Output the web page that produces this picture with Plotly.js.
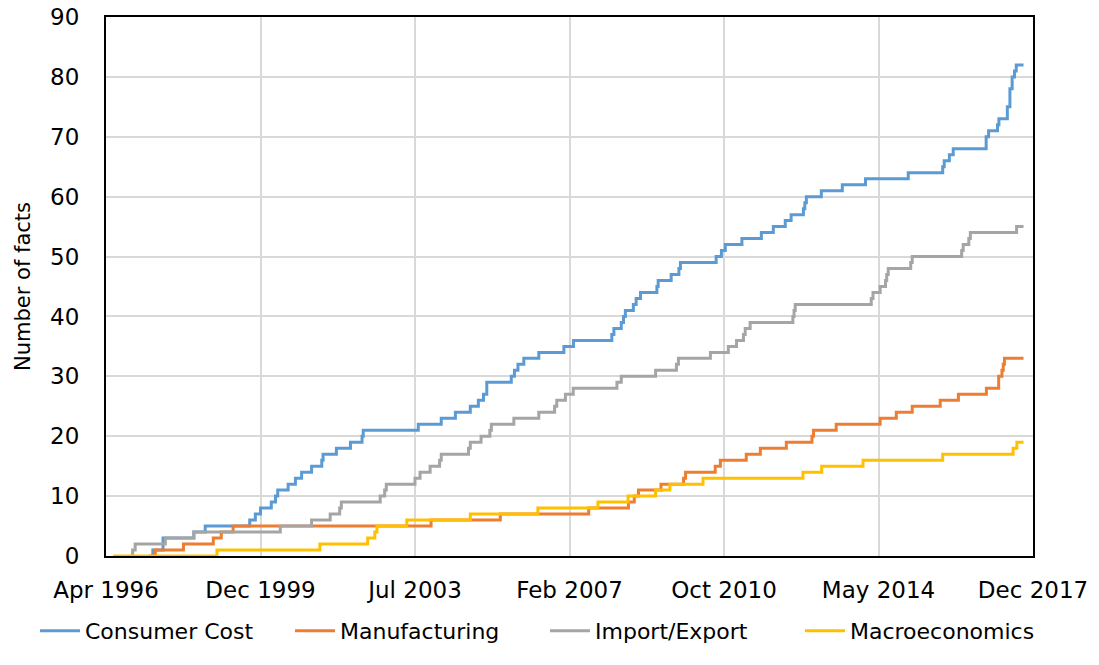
<!DOCTYPE html>
<html>
<head>
<meta charset="utf-8">
<script src="https://cdn.plot.ly/plotly-3.0.1.min.js"></script>
<style>html,body{margin:0;padding:0;background:#fff;}#chart{width:1099px;height:665px;}</style>
</head>
<body>
<div id="chart"></div>
<script>
// ---- data ----
const seriesNames = ['Consumer Cost', 'Manufacturing', 'Import/Export', 'Macroeconomics'];
const xTickLabels = ['Apr 1996', 'Dec 1999', 'Jul 2003', 'Feb 2007', 'Oct 2010', 'May 2014', 'Dec 2017'];
const xRange = ['1996-04-15', '2017-12-15'];

const consumerDates = ['1997-04-28','1997-05-20','1997-08-15','1998-05-05','1998-08-10','1999-08-25','1999-10-12','1999-11-25','2000-02-25','2000-04-01','2000-04-20','2000-07-18','2000-09-18','2000-11-10','2001-02-03','2001-05-01','2001-05-12','2001-09-03','2002-01-01','2002-04-10','2002-04-20','2003-08-03','2004-02-15','2004-06-15','2004-10-20','2004-12-28','2005-02-10','2005-03-10','2005-10-05','2005-11-01','2005-12-01','2006-01-20','2006-05-28','2006-12-28','2007-03-20','2008-02-10','2008-02-28','2008-05-01','2008-05-20','2008-06-05','2008-08-12','2008-09-05','2008-10-12','2009-03-01','2009-03-12','2009-07-01','2009-09-05','2009-09-18','2010-07-20','2010-09-03','2010-10-06','2011-02-25','2011-08-10','2011-11-20','2012-03-01','2012-04-20','2012-08-03','2012-08-15','2012-08-28','2013-01-03','2013-07-01','2014-01-15','2015-01-15','2015-11-05','2015-11-18','2016-01-01','2016-02-03','2016-11-10','2016-12-01','2017-02-15','2017-02-27','2017-05-10','2017-06-01','2017-06-20','2017-07-10','2017-07-25','2017-09-25'];
const consumerValues = [0,1,3,4,5,6,7,8,9,10,11,12,13,14,15,16,17,18,19,20,21,22,23,24,25,26,27,29,30,31,32,33,34,35,36,37,38,39,40,41,42,43,44,45,46,47,48,49,50,51,52,53,54,55,56,57,58,59,60,61,62,63,64,65,66,67,68,70,71,72,73,75,78,80,81,82,82];

const manufDates = ['1997-04-18','1997-06-10','1998-02-05','1998-10-18','1998-12-25','1999-04-05','2003-11-20','2005-07-03','2007-07-28','2008-07-01','2008-08-20','2008-09-25','2009-04-05','2009-10-15','2009-11-01','2010-07-12','2010-08-25','2011-04-03','2011-08-01','2012-03-10','2012-10-15','2012-10-28','2013-05-10','2014-05-20','2014-10-05','2015-02-18','2015-10-15','2016-03-18','2016-11-12','2017-02-25','2017-03-25','2017-04-05','2017-04-15','2017-09-25'];
const manufValues = [0,1,2,3,4,5,6,7,8,9,10,11,12,13,14,15,16,17,18,19,20,21,22,23,24,25,26,27,28,30,31,32,33,33];

const importDates = ['1996-11-10','1996-11-28','1996-12-20','1997-09-03','1998-05-05','2000-05-12','2001-02-03','2001-07-12','2001-10-01','2001-10-15','2002-09-12','2002-10-20','2002-11-03','2003-07-06','2003-08-18','2003-11-12','2004-02-01','2004-02-15','2004-10-05','2004-10-20','2005-01-20','2005-04-05','2005-04-18','2005-10-27','2006-05-28','2006-10-10','2006-10-28','2007-01-10','2007-03-18','2008-03-25','2008-05-01','2009-02-18','2009-08-15','2009-09-01','2010-06-01','2010-11-01','2011-01-10','2011-03-10','2011-03-25','2011-05-06','2012-05-05','2012-05-15','2012-05-25','2014-03-05','2014-03-20','2014-05-20','2014-07-05','2014-07-15','2014-07-28','2015-02-05','2015-02-18','2016-04-15','2016-04-28','2016-06-15','2016-06-28','2017-07-28','2017-09-25'];
const importValues = [0,1,2,3,4,5,6,7,8,9,10,11,12,13,14,15,16,17,18,19,20,21,22,23,24,25,26,27,28,29,30,31,32,33,34,35,36,37,38,39,40,41,42,43,44,45,46,47,48,49,50,51,52,53,54,55,55];

const macroDates = ['1996-06-15','1998-11-18','2001-04-15','2002-05-28','2002-07-28','2002-08-15','2003-04-27','2004-10-20','2006-05-20','2007-10-15','2008-06-28','2009-02-18','2009-06-20','2010-03-30','2012-07-30','2013-01-06','2013-12-25','2015-11-05','2017-06-28','2017-07-30','2017-09-25'];
const macroValues = [0,1,2,3,4,5,6,7,8,9,10,11,12,13,14,15,16,17,18,19,19];

const seriesColors = ['#5B9BD5', '#ED7D31', '#A5A5A5', '#FFC000'];

// ---- build ----
const font = 'DejaVu Sans, sans-serif';
const allDates = [consumerDates, manufDates, importDates, macroDates];
const allValues = [consumerValues, manufValues, importValues, macroValues];
const traces = seriesNames.map((name, i) => ({
  x: allDates[i], y: allValues[i], name: name, type: 'scatter', mode: 'lines',
  line: {color: seriesColors[i], width: 3, shape: 'hv'}
}));

const t0 = Date.parse(xRange[0]), t1 = Date.parse(xRange[1]);
const n = xTickLabels.length - 1;
const tickvals = xTickLabels.map((_, i) => new Date(t0 + i * (t1 - t0) / n).toISOString().slice(0, 10));

const layout = {
  width: 1099, height: 665,
  margin: {l: 106, r: 66, t: 17, b: 109},
  paper_bgcolor: '#fff', plot_bgcolor: '#fff',
  font: {family: font, size: 23, color: '#000'},
  showlegend: true,
  legend: {orientation: 'h', x: -0.0766, xanchor: 'left', y: -0.1, yanchor: 'top',
           font: {family: font, size: 22, color: '#000'}, itemwidth: 40, traceorder: 'normal',
           entrywidth: 200, entrywidthmode: 'pixels'},
  xaxis: {
    type: 'date', range: xRange, tickmode: 'array', tickvals: tickvals, ticktext: xTickLabels,
    showgrid: true, gridcolor: '#D9D9D9', gridwidth: 2,
    showline: true, linecolor: '#000', linewidth: 2, mirror: true,
    ticks: '', ticklabelstandoff: 12, zeroline: false,
    tickfont: {family: font, size: 23, color: '#000'}
  },
  yaxis: {
    range: [0, 90], dtick: 10, tick0: 0,
    showgrid: true, gridcolor: '#D9D9D9', gridwidth: 2,
    showline: true, linecolor: '#000', linewidth: 2, mirror: true,
    ticks: '', ticklabelstandoff: 20, zeroline: false,
    tickfont: {family: font, size: 23, color: '#000'},
    title: {text: 'Number of facts', font: {family: font, size: 21, color: '#000'}, standoff: 14}
  }
};

Plotly.newPlot('chart', traces, layout, {displayModeBar: false, staticPlot: true});
</script>
</body>
</html>
